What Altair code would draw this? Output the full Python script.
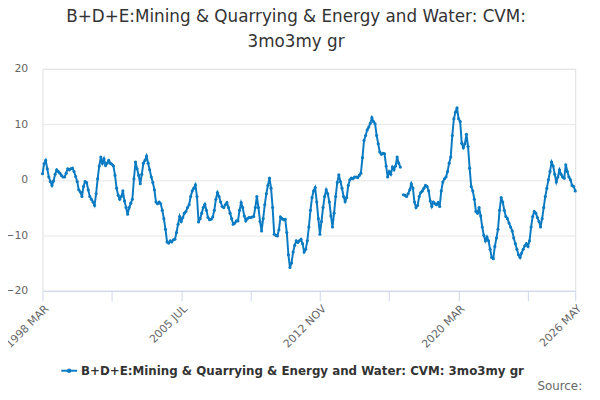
import pandas as pd
import altair as alt

# monthly values, 1998 MAR .. 2026 MAY (None = gap)
values = [
    1.1, 2.9, 3.5, 2.0, 0.5, -0.3, -1.0, -0.2, 1.0, 1.8, 1.5, 1.2,
    0.8, 0.5, 0.5, 1.2, 2.0, 1.8, 2.0, 2.1, 1.5, 0.6, -0.3, -1.8,
    -2.2, -3.0, -1.2, -0.3, -0.5, -1.8, -3.0, -3.5, -4.0, -4.6, -2.5, 0.2,
    2.5, 4.1, 3.0, 3.8, 2.6, 3.0, 3.5, 3.0, 2.8, 2.5, 0.8, -1.5,
    -2.8, -3.5, -3.0, -2.0, -3.8, -5.0, -6.2, -5.0, -4.2, -3.5, 0.2, 3.2,
    2.0, 0.8, -0.7, 1.0, 3.0, 3.5, 4.3, 3.0, 1.8, 0.5, -0.5, -1.8,
    -4.0, -4.3, -4.0, -4.3, -5.5, -7.0, -8.9, -11.2, -11.4, -11.0, -11.2, -10.8,
    -10.7, -9.5, -8.0, -6.6, -7.5, -6.8, -6.0, -5.7, -5.0, -4.5, -3.0, -2.0,
    -1.5, -0.9, -3.0, -7.6, -7.0, -6.0, -5.0, -4.4, -5.5, -6.8, -7.2, -7.1,
    -6.7, -5.5, -3.5, -2.3, -3.0, -4.0, -4.8, -5.0, -4.5, -4.1, -5.0, -6.0,
    -7.0, -8.0, -7.8, -7.4, -7.4, -5.5, -4.1, -5.0, -6.5, -7.4, -7.0, -6.8,
    -6.8, -6.7, -6.6, -5.0, -3.0, -5.0, -7.5, -9.2, -7.0, -4.5, -2.5, -1.0,
    0.3, -1.5, -5.0, -9.8, -10.0, -10.1, -9.0, -6.7, -7.0, -7.2, -7.1, -9.5,
    -13.5, -15.8, -15.0, -13.0, -11.8, -11.0, -11.3, -11.0, -10.7, -11.5, -13.0, -12.5,
    -11.0, -8.5, -5.5, -3.2, -2.0, -1.4, -4.0, -7.0, -9.8, -7.5, -5.0, -3.0,
    -1.8, -2.5, -4.0, -6.5, -8.5, -6.0, -3.0, -0.5, 0.9, -0.3, -1.5, -3.0,
    -3.9, -3.2, -1.0, 0.0, 0.3, 0.2, 0.5, 0.5, 0.4, 0.8, 1.2, 4.0,
    7.1, 8.0, 9.0, 9.5, 10.2, 11.2, 10.5, 10.1, 8.0, 6.5, 5.0, 4.6,
    4.8, 4.7, 2.5, 0.5, 1.5, 1.0, 2.3, 1.8, 2.5, 4.1, 3.0, 2.3,
    None, -2.7, -2.8, -3.0, -2.5, -1.8, -0.7, -1.5, -4.0, -5.0, -4.6, -3.0,
    -2.3, -2.0, -1.5, -1.0, -1.2, -2.0, -3.8, -4.8, -4.0, -4.3, -4.5, -4.1,
    -4.8, -2.0, -0.4, 0.2, 0.5, 1.5, 3.0, 4.1, 8.0, 11.0, 12.2, 13.0,
    11.0, 10.5, 6.6, 5.8, 6.5, 8.2, 6.0, 2.1, -1.2, -2.0, -3.5, -5.7,
    -6.0, -5.0, -6.5, -8.5, -10.0, -11.0, -10.3, -11.0, -12.5, -14.0, -14.2, -12.0,
    -10.5, -8.9, -5.5, -3.2, -4.0, -5.5, -6.6, -7.0, -7.8, -8.5, -9.2, -10.5,
    -11.5, -12.5, -13.5, -14.0, -13.2, -12.5, -11.9, -11.5, -12.0, -11.0, -8.5, -6.6,
    -5.7, -6.0, -6.8, -7.5, -8.5, -7.0, -5.0, -3.0, -1.5, 0.0, 1.5, 3.2,
    2.5, 1.0, -0.4, 0.5, 1.8, 1.0, 0.5, 0.3, 2.7, 1.5, 0.5, 0.0,
    -1.0, -1.2, -2.0,
]
tick_months = [0, 22, 44, 66, 88, 110, 132, 154, 176, 198, 220, 242, 264, 286, 308, 330, 338]
tick_labels = {0: "1998 MAR", 88: "2005 JUL", 176: "2012 NOV", 264: "2020 MAR", 338: "2026 MAY"}
series_name = "B+D+E:Mining & Quarrying & Energy and Water: CVM: 3mo3my gr"

df = pd.DataFrame({"m": range(len(values)), "v": values})
blue = "#0a7bc2"

label_expr = " : ".join(f"datum.value == {k} ? '{v}'" for k, v in tick_labels.items()) + " : ''"

base = alt.Chart(df)
line = base.mark_line(color=blue, strokeWidth=2).encode(
    x=alt.X("m:Q", scale=alt.Scale(domain=[0, 338], nice=False),
            axis=alt.Axis(values=tick_months, labelExpr=label_expr, labelAngle=315,
                          grid=False, title=None, labelColor="#666", labelFontSize=11,
                          domainColor="#ccd6eb", tickColor="#ccd6eb", tickSize=10,
                          labelAlign="right", labelOverlap=False)),
    y=alt.Y("v:Q", scale=alt.Scale(domain=[-20, 20]),
            axis=alt.Axis(values=[-20, -10, 0, 10, 20], title=None, domain=False, ticks=False,
                          gridColor="#e6e6e6", labelColor="#666", labelFontSize=11, labelPadding=15)),
)
pts = base.mark_point(filled=True, color=blue, size=10, opacity=1).encode(x="m:Q", y="v:Q")

leg_line = alt.Chart(pd.DataFrame({"a": [0]})).mark_rule(color=blue, strokeWidth=2).encode(
    x=alt.value(19), x2=alt.value(35), y=alt.value(306))
leg_pt = alt.Chart(pd.DataFrame({"a": [0]})).mark_point(filled=True, color=blue, size=20, opacity=1).encode(
    x=alt.value(27), y=alt.value(306))
leg_text = alt.Chart(pd.DataFrame({"t": [series_name]})).mark_text(
    align="left", baseline="middle", fontSize=12, fontWeight="bold", color="#333").encode(
    x=alt.value(39), y=alt.value(306), text="t:N")
source = alt.Chart(pd.DataFrame({"t": ["Source:"]})).mark_text(
    align="right", baseline="middle", fontSize=12, color="#666").encode(
    x=alt.value(547), y=alt.value(322), text="t:N")

chart = (line + pts + leg_line + leg_pt + leg_text + source).properties(
    width=540, height=225,
    autosize=alt.AutoSizeParams(type="none"),
    padding={"left": 35, "top": 59, "right": 17, "bottom": 108},
    title=alt.TitleParams(["B+D+E:Mining & Quarrying & Energy and Water: CVM:", "3mo3my gr"],
                          fontSize=17, fontWeight="normal", color="#333", anchor="middle",
                          dx=-13, offset=12, lineHeight=25),
).configure_view(stroke=None).configure(font="DejaVu Sans")

chart.save("out.html", embed_options={"renderer": "svg", "actions": False})
